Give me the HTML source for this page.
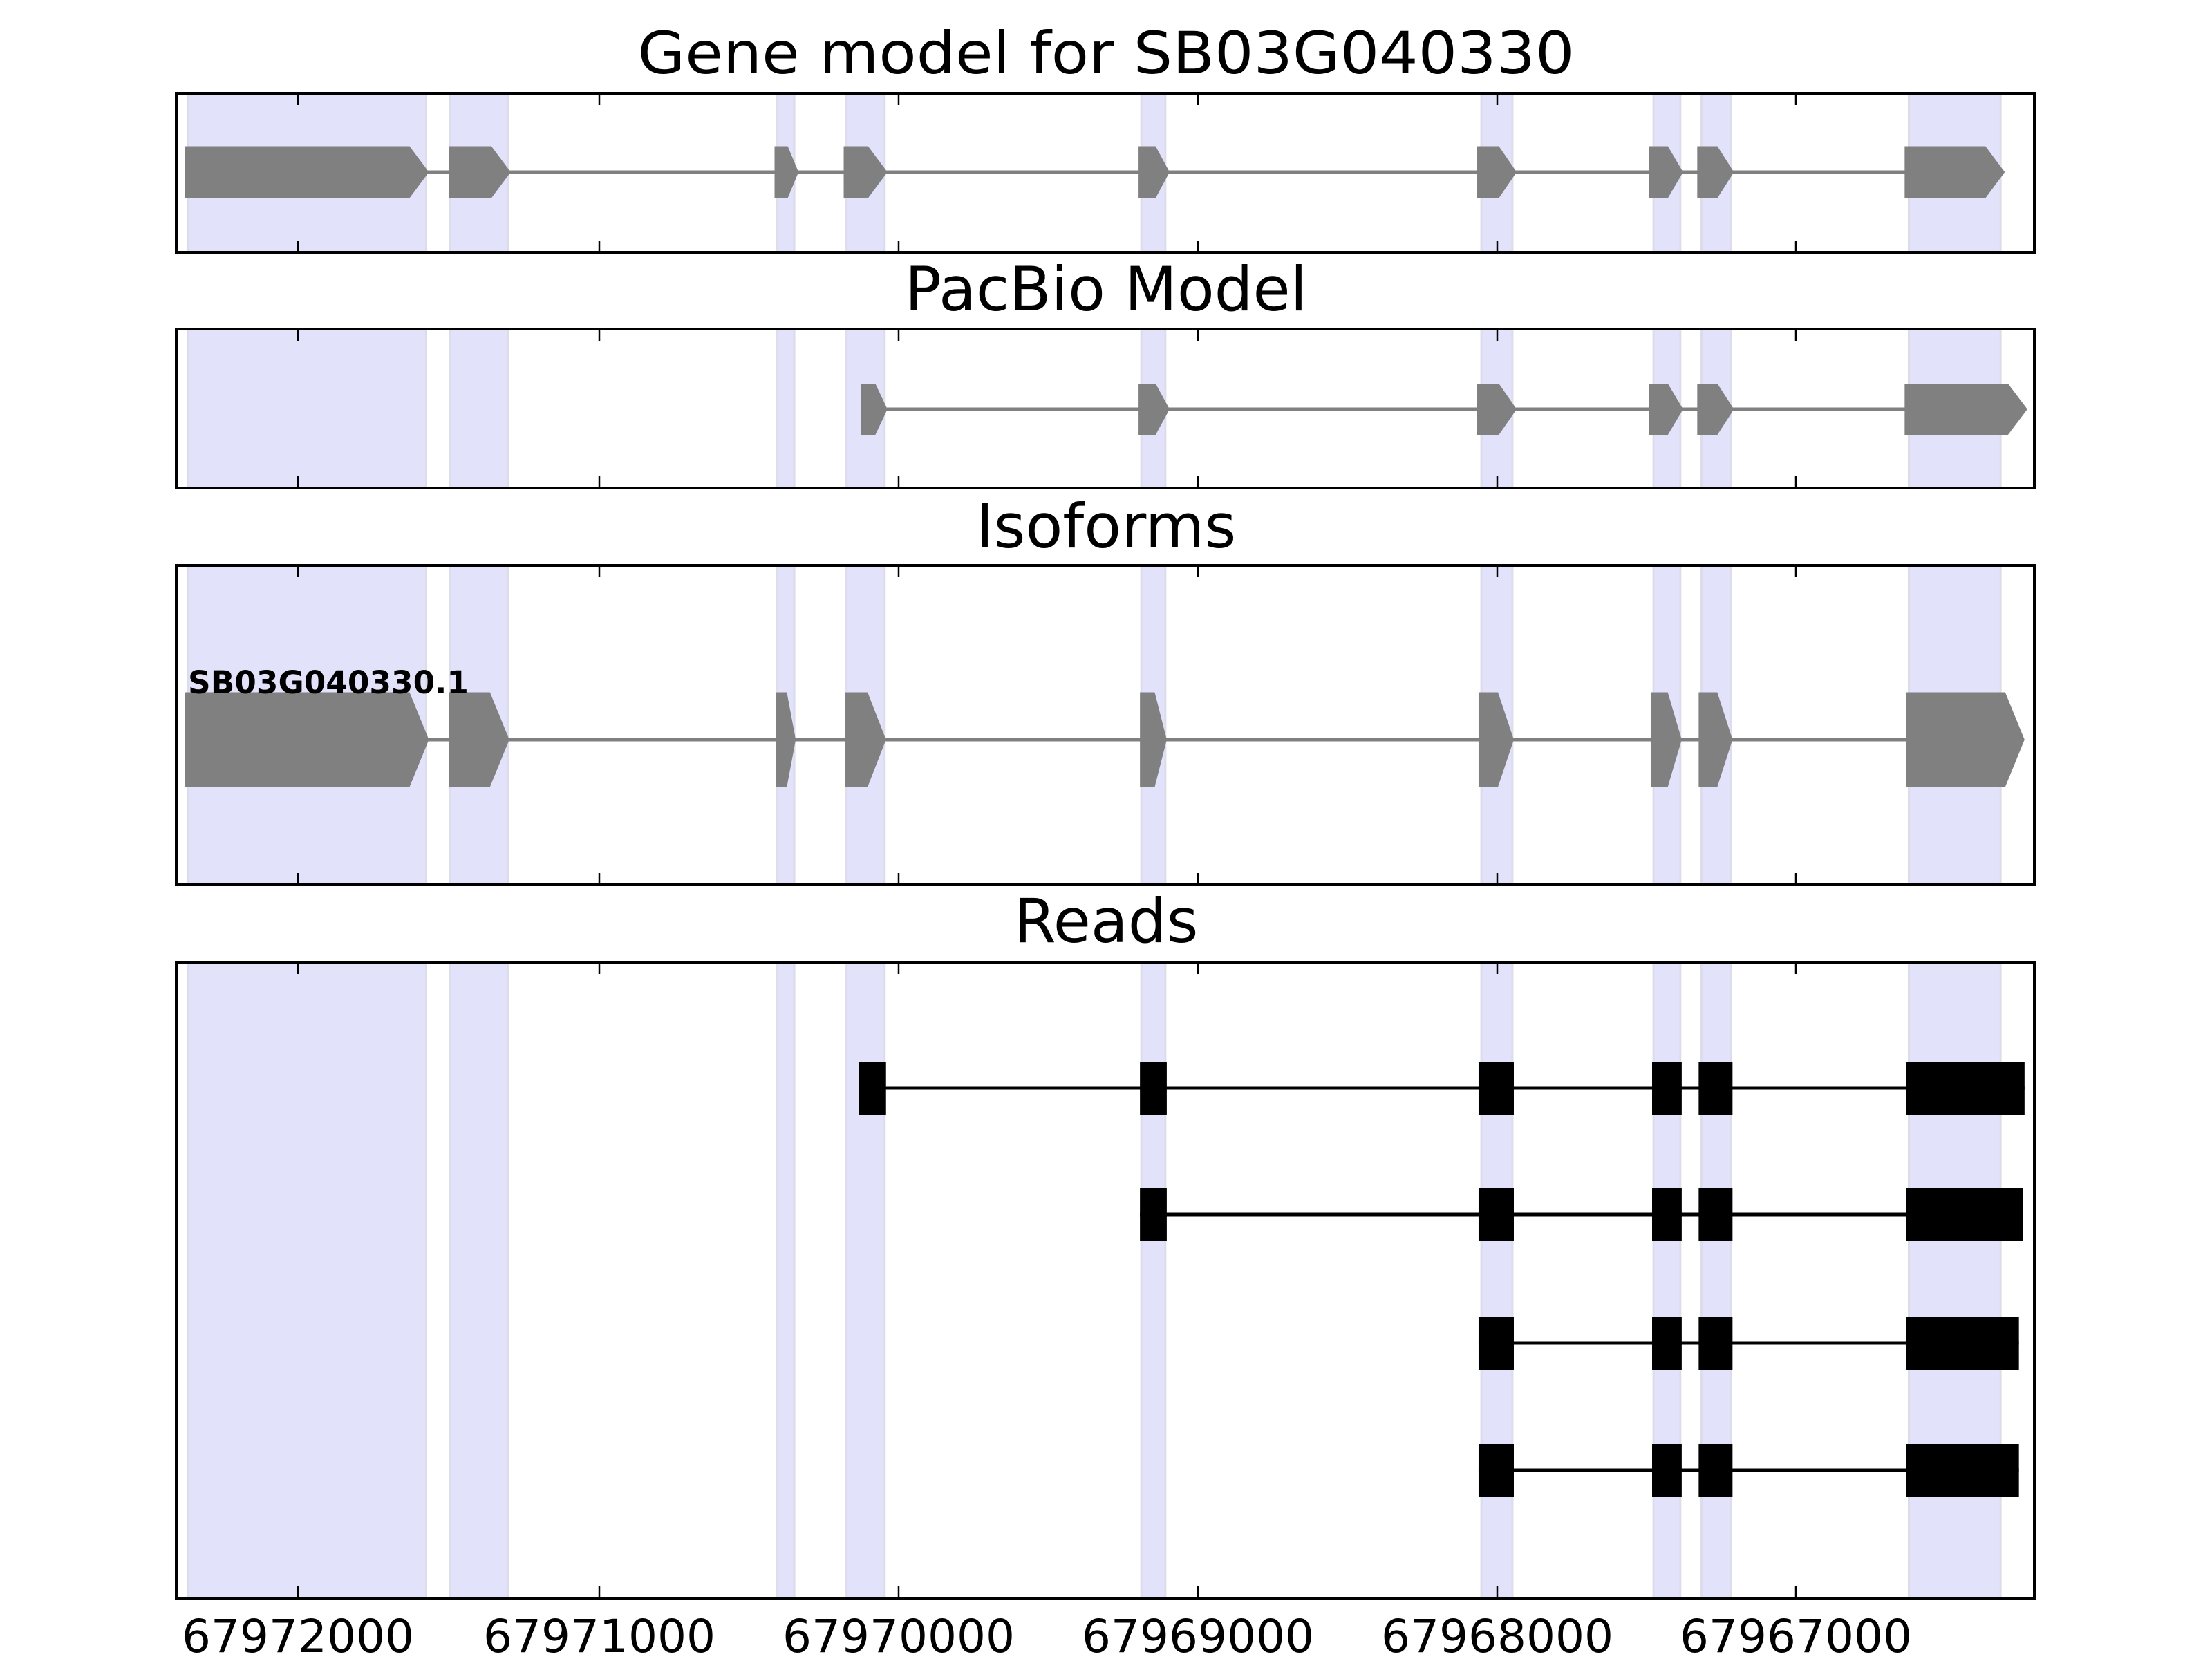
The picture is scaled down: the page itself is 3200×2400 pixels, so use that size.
<!DOCTYPE html>
<html><head><meta charset="utf-8"><style>html,body{margin:0;padding:0;background:#fff}svg{display:block}</style></head>
<body>
<svg id="s" xmlns="http://www.w3.org/2000/svg" width="3200" height="2400" viewBox="0 0 3200 2400" font-family="DejaVu Sans, Liberation Sans, sans-serif">
<rect width="3200" height="2400" fill="#fff"/>
<g id="g"></g>
<text x="1600" y="106" font-size="84" text-anchor="middle" textLength="1355" lengthAdjust="spacingAndGlyphs">Gene model for SB03G040330</text>
<text x="1600" y="449" font-size="88" text-anchor="middle">PacBio Model</text>
<text x="1600" y="792" font-size="88" text-anchor="middle">Isoforms</text>
<text x="1600" y="1363" font-size="88" text-anchor="middle">Reads</text>
<text x="272" y="1003" font-size="45" font-weight="bold" textLength="406" lengthAdjust="spacingAndGlyphs">SB03G040330.1</text>
<g font-size="66" text-anchor="middle">
<text x="431" y="2390">67972000</text>
<text x="867" y="2390">67971000</text>
<text x="1300" y="2390">67970000</text>
<text x="1733" y="2390">67969000</text>
<text x="2166" y="2390">67968000</text>
<text x="2598" y="2390">67967000</text>
</g>
</svg>
<script>
var K=2.041,NS="http://www.w3.org/2000/svg",g=document.getElementById('g');
function el(t,a){var e=document.createElementNS(NS,t);for(var k in a)e.setAttribute(k,a[k]);g.appendChild(e);return e;}
var L=255,R=2943;
var panels=[[135,365],[476,706],[818,1280],[1392,2312]];
var shades=[[133,302],[319,360],[551,563],[600,627],[809,826],[1050,1072],[1172,1191],[1206,1227],[1353,1418]];
var ticks=[431,867,1300,1733,2166,2598];
panels.forEach(function(p){
 shades.forEach(function(s){el('rect',{x:s[0]*K,y:p[0],width:(s[1]-s[0])*K,height:p[1]-p[0],fill:'#e2e2fb',stroke:'#dcdcea','stroke-width':3});});
});
function gene(cy,h,ex){
 el('line',{x1:ex[0][0]*K,x2:ex[ex.length-1][1]*K-20,y1:cy,y2:cy,stroke:'#808080','stroke-width':5});
 ex.forEach(function(e){var a=e[0]*K,b=e[1]*K,w=b-a,hd=Math.min(28,w*0.45),t=cy-h/2,bt=cy+h/2;
  el('polygon',{points:a+','+t+' '+(b-hd)+','+t+' '+b+','+cy+' '+(b-hd)+','+bt+' '+a+','+bt,fill:'#808080'});});
}
gene(249,75,[[131,304],[318,362],[549,566],[598,629],[807,829],[1047,1075],[1169,1193],[1203,1229],[1350,1421]]);
gene(592,74,[[610,629],[807,829],[1047,1075],[1169,1193],[1203,1229],[1350,1437]]);
gene(1070,137,[[131,304],[318,361],[550,564],[599,628],[808,827],[1048,1073],[1170,1192],[1204,1228],[1351,1435]]);
function read(cy,ex){
 el('line',{x1:ex[0][0]*K,x2:ex[ex.length-1][1]*K,y1:cy,y2:cy,stroke:'#000','stroke-width':5});
 ex.forEach(function(e){el('rect',{x:e[0]*K,y:cy-38,width:(e[1]-e[0])*K,height:77,fill:'#000'});});
}
var tail=[[1048,1073],[1171,1192],[1204,1228]];
read(1574,[[609,628],[808,827]].concat(tail,[[1351,1435]]));
read(1757,[[808,827]].concat(tail,[[1351,1434]]));
read(1943,tail.concat([[1351,1431]]));
read(2127,tail.concat([[1351,1431]]));
panels.forEach(function(p){
 ticks.forEach(function(x){el('line',{x1:x,x2:x,y1:p[0],y2:p[0]+17,stroke:'#000','stroke-width':2.5});el('line',{x1:x,x2:x,y1:p[1],y2:p[1]-17,stroke:'#000','stroke-width':2.5});});
 el('rect',{x:L,y:p[0],width:R-L,height:p[1]-p[0],fill:'none',stroke:'#000','stroke-width':4});
});
</script>
</body></html>
